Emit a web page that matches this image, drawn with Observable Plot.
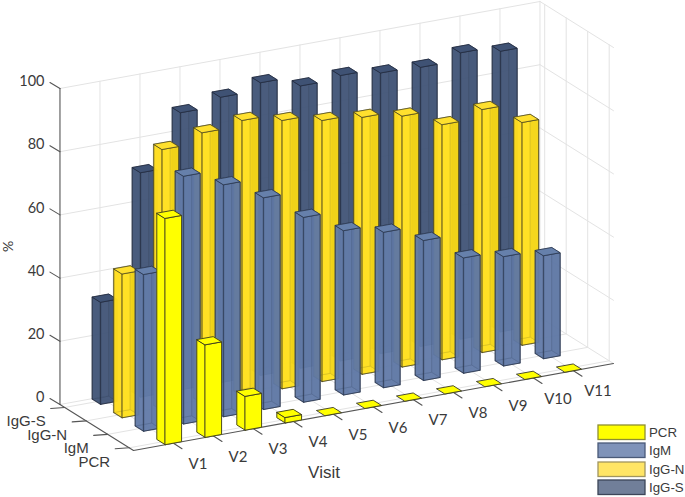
<!DOCTYPE html>
<html><head><meta charset="utf-8">
<style>html,body{margin:0;padding:0;background:#fff}svg{display:block}</style>
<script src="https://cdn.jsdelivr.net/npm/d3@7"></script>
<script src="https://cdn.jsdelivr.net/npm/@observablehq/plot@0.6"></script>
</head><body><div id="c"></div>
<script>
const visits = ["V1","V2","V3","V4","V5","V6","V7","V8","V9","V10","V11"];
const seriesNames = ["PCR","IgM","IgG-N","IgG-S"];
const pcr  = [71.6,29.3,10.7,1.7,0,0,0,0,0,0,0];
const igm  = [49.6,78.4,73.4,67,58.5,52,49.2,44.3,36.5,34.6,32.6];
const iggN = [45.5,82.6,85.6,87.2,84.9,82.6,81.3,79.4,74.4,76.9,70.5];
const iggS = [32.3,71,87.7,90.3,92.6,89.3,90.3,88.8,88.3,90.6,88.8];
const zTicks = [0,20,40,60,80,100];

const values = [pcr,igm,iggN,iggS];
const styles = [
 {front:"#ffff00",left:"#ffff00",top:"#ffff00",back:"#ffff00",side:"#ffff00",op:1,hop:1,edge:"#3a3a20",eop:.9,legend:"#ffff00",lstroke:"#8f8f30"},
 {front:"#5f79a6",left:"#5f79a6",top:"#6680ab",back:"#6a83ad",side:"#5a73a0",op:.72,hop:.85,edge:"#2c3850",eop:.8,legend:"#7f93b9",lstroke:"#4a5a78"},
 {front:"#ffe01e",left:"#ffdc1e",top:"#ffe02e",back:"#ffdf20",side:"#d8b800",op:.72,hop:.9,edge:"#4a4520",eop:.75,legend:"#ffe566",lstroke:"#a09560"},
 {front:"#445879",left:"#435779",top:"#3f5274",back:"#47597b",side:"#3f5173",op:.72,hop:.9,edge:"#232c40",eop:.8,legend:"#717f99",lstroke:"#3c4558"}
];
const W=685,H=497;
const S0=-0.2, S1=3.22, V1=12;
function P(v,s,z){ const t=s-S0; return [133+40*v-21.5*t, 450-7.25*v-13.45*t-3.16*z]; }

const hw=.205, hd=.195;
const faces=[]; let id=0;
function poly(corners,fill,op,edge,eop){ const k=id++; for(const [v,s,z] of corners){const [x,y]=P(v,s,z); faces.push({k,x,y,fill,op,edge,eop});} }
for(let si=3;si>=0;si--){
  const st=styles[si];
  for(let vi=10;vi>=0;vi--){
    const v=vi+1, z=values[si][vi], a=v-hw,b=v+hw,c=si-hd,d=si+hd;
    const ee=st.eop, he=si==0?0:.5;
    if(z>0){
      poly([[a,c,0],[b,c,0],[b,d,0],[a,d,0]],st.back,st.hop,st.edge,he);
      poly([[a,d,0],[b,d,0],[b,d,z],[a,d,z]],st.back,st.hop,st.edge,he);
      poly([[b,c,0],[b,d,0],[b,d,z],[b,c,z]],st.side,st.hop,st.edge,he);
      poly([[a,c,0],[a,d,0],[a,d,z],[a,c,z]],st.left,st.op,st.edge,ee);
      poly([[a,c,0],[b,c,0],[b,c,z],[a,c,z]],st.front,st.op,st.edge,ee);
    }
    poly([[a,c,z],[b,c,z],[b,d,z],[a,d,z]],st.top,1,st.edge,ee);
  }
}
// grid
const grid=[]; let gid=0;
function seg(a,b){const k=gid++; for(const q of [a,b]){const [x,y]=P(...q); grid.push({k,x,y});}}
const sTicks=[0,1,2,3];
const G="#e3e3e3";
for(let v=1;v<=V1;v++) seg([v,S1,0],[v,S1,100]);
for(const z of zTicks) seg([0,S1,z],[V1,S1,z]);
for(const z of zTicks) seg([V1,S1,z],[V1,S0,z]);
for(const s of sTicks) seg([V1,s,0],[V1,s,100]);
for(let v=1;v<V1;v++) seg([v,S1,0],[v,S0,0]);
for(const s of sTicks) seg([0,s,0],[V1,s,0]);

const axes=[]; let aid=0;
function aseg(a,b,dx=0,dy=0){const k=aid++; const [x0,y0]=P(...a); axes.push({k,x:x0,y:y0}); const [x1,y1]=b?P(...b):[x0+dx,y0+dy]; axes.push({k,x:x1,y:y1});}
aseg([0,S1,0],[0,S1,100]);
aseg([0,S1,0],[0,S0,0]);
aseg([0,S0,0],[V1,S0,0]);
for(const z of zTicks) aseg([0,S1,z],null,-10,-6);
for(let v=1;v<=11;v++) aseg([v,S0,0],null,8.5,5.5);
for(const s of sTicks) aseg([0,s,0],null,-14,1);

const at=(q,dx,dy)=>{const [x,y]=P(...q);return {x:x+dx,y:y+dy};};
const zLab=zTicks.map(z=>({...at([0,S1,z],-15.5,-7),t:String(z)}));
const vLab=visits.map((t,i)=>({...at([i+1,S0,0],24.5,20.7),t}));
const sLab=seriesNames.map((t,i)=>({...at([0,i,0],-19,14),t}));
const lgTop=[425,443,462,480];
const legend=seriesNames.map((t,i)=>({t,y1:lgTop[i],y2:lgTop[i]+14.5,fill:styles[i].legend,st:styles[i].lstroke}));

const chart=Plot.plot({
 width:W,height:H,margin:0,marginTop:0,marginBottom:0,marginLeft:0,marginRight:0,
 x:{domain:[0,W],range:[0,W],axis:null},
 y:{domain:[0,H],range:[0,H],axis:null},
 style:{background:"#fff",overflow:"visible"},
 marks:[
  Plot.line(grid,{x:"x",y:"y",z:"k",stroke:G,strokeWidth:1,curve:"linear"}),
  Plot.line(axes,{x:"x",y:"y",z:"k",stroke:"#555",strokeWidth:1.1,curve:"linear"}),
  Plot.line(faces,{x:"x",y:"y",z:"k",curve:"linear-closed",
    fill:{value:"fill",scale:null},fillOpacity:{value:"op",scale:null},
    stroke:{value:"edge",scale:null},strokeOpacity:{value:"eop",scale:null},strokeWidth:1,strokeLinejoin:"round"}),
  Plot.text(zLab,{x:"x",y:"y",text:"t",textAnchor:"end",fontSize:14.5,fontFamily:"Lato",fill:"#3a3a3a",ariaLabel:"narrow"}),
  Plot.text(vLab,{x:"x",y:"y",text:"t",textAnchor:"middle",fontSize:15,fontFamily:"Lato",fill:"#3a3a3a",ariaLabel:"narrow"}),
  Plot.text(sLab,{x:"x",y:"y",text:"t",textAnchor:"end",fontSize:15,fontFamily:"Liberation Sans",fill:"#3a3a3a"}),
  Plot.text(["Visit"],{x:323.5,y:472,text:d=>d,textAnchor:"middle",fontSize:17,fontFamily:"Liberation Sans",fill:"#3a3a3a"}),
  Plot.text(["%"],{x:8,y:246,text:d=>d,rotate:-90,textAnchor:"middle",fontSize:14,fontFamily:"Lato",fill:"#3a3a3a"}),
  Plot.rect(legend,{x1:()=>598,x2:()=>645,y1:"y1",y2:"y2",fill:{value:"fill",scale:null},stroke:{value:"st",scale:null},strokeWidth:1.3}),
  Plot.text(legend,{x:()=>648.5,y:d=>d.y1+7.5,text:"t",textAnchor:"start",fontSize:13.3,fontFamily:"Liberation Sans",fill:"#3a3a3a"})
 ]
});
document.getElementById("c").appendChild(chart);
chart.querySelectorAll('g[aria-label="narrow"] text').forEach(t=>{
  const w=t.getComputedTextLength();
  t.setAttribute("textLength",w*.82);
  t.setAttribute("lengthAdjust","spacingAndGlyphs");
});
</script></body></html>
